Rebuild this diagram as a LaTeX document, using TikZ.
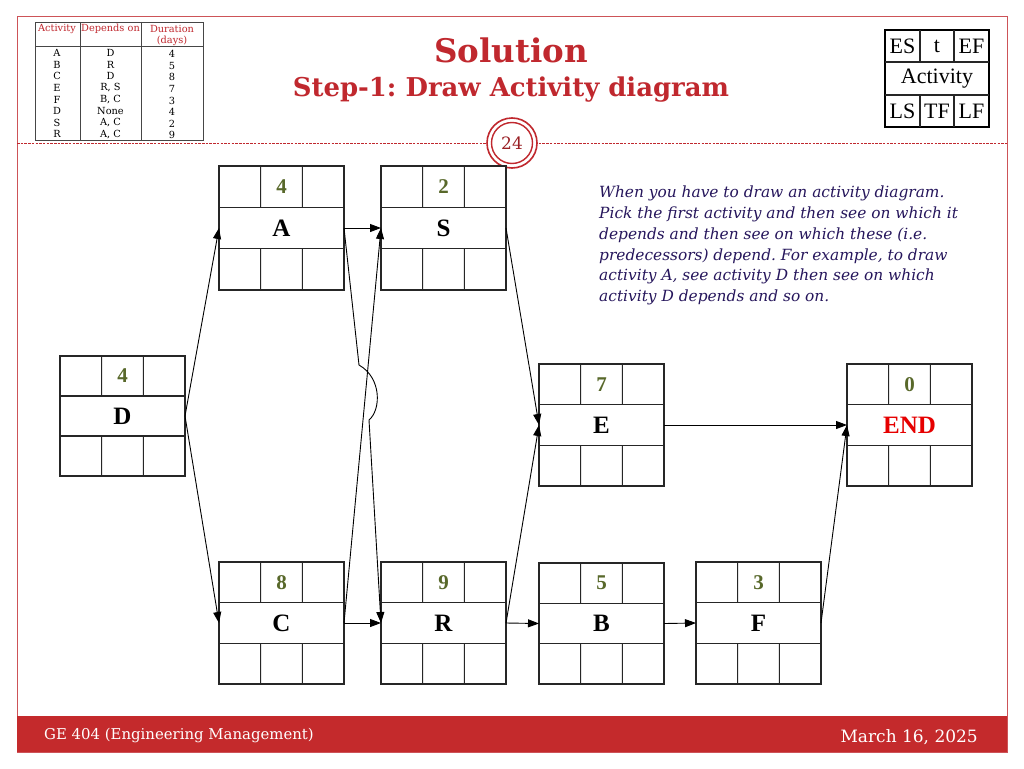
\documentclass[tikz,border=0pt]{standalone}
\usepackage{fontspec}
\setmainfont{DejaVu Serif}
\newfontfamily\tnr{Liberation Serif}
\usetikzlibrary{calc,arrows.meta}
\frenchspacing
\definecolor{slred}{RGB}{192,40,46}
\definecolor{barred}{RGB}{196,42,44}
\definecolor{olivenum}{RGB}{88,104,42}
\definecolor{parcol}{RGB}{38,22,92}
\definecolor{endred}{RGB}{230,0,0}
\definecolor{gridgray}{RGB}{70,70,70}
\newcommand\actbox[5]{%
  \node[abox, minimum height=#5] (#1) at (#2,#3) {};
  \draw[inner] ($(#1.north west)!1/3!(#1.south west)$) -- ($(#1.north east)!1/3!(#1.south east)$);
  \draw[inner] ($(#1.north west)!2/3!(#1.south west)$) -- ($(#1.north east)!2/3!(#1.south east)$);
  \draw[inner] ($(#1.north west)!1/3!(#1.north east)$) -- ($($(#1.north west)!1/3!(#1.north east)$)!1/3!($(#1.south west)!1/3!(#1.south east)$)$);
  \draw[inner] ($(#1.north west)!2/3!(#1.north east)$) -- ($($(#1.north west)!2/3!(#1.north east)$)!1/3!($(#1.south west)!2/3!(#1.south east)$)$);
  \draw[inner] ($(#1.south west)!1/3!(#1.south east)$) -- ($($(#1.south west)!1/3!(#1.south east)$)!1/3!($(#1.north west)!1/3!(#1.north east)$)$);
  \draw[inner] ($(#1.south west)!2/3!(#1.south east)$) -- ($($(#1.south west)!2/3!(#1.south east)$)!1/3!($(#1.north west)!2/3!(#1.north east)$)$);
}
\begin{document}
\frenchspacing
\begin{tikzpicture}[x=1pt,y=-1pt,
  abox/.style={draw=black!85, line width=1.1pt, minimum width=125pt, inner sep=0pt, outer sep=0pt, fill=white},
  inner/.style={draw=black!85, line width=1.1pt},
  numtxt/.style={font=\tnr\bfseries\fontsize{21}{21}\selectfont, text=olivenum, inner sep=0pt},
  labtxt/.style={font=\tnr\bfseries\fontsize{25}{25}\selectfont, inner sep=0pt},
  arr/.style={line width=0.9pt, -{Triangle[length=11pt,width=8pt]}},
  tbl/.style={font=\fontsize{9.8}{9.8}\selectfont, inner sep=0pt},
  tblh/.style={font=\fontsize{9.8}{11}\selectfont, text=slred, inner sep=0pt, align=center},
  leg/.style={font=\tnr\fontsize{22}{22}\selectfont, inner sep=0pt}
]
\useasboundingbox (0,0) rectangle (1024,768);
\fill[white] (0,0) rectangle (1024,768);
% frame
\draw[slred!80, line width=1pt] (17,17) rectangle (1007,752);
\fill[barred] (17,716) rectangle (1007,752);
\node[anchor=west, text=white, font=\fontsize{14.9}{14.9}\selectfont, inner sep=0pt] (foot1) at (44,735) {GE 404 (Engineering Management)};
\node[anchor=east, text=white, font=\fontsize{17}{17}\selectfont, inner sep=0pt] (foot2) at (978,737) {March 16, 2025};
% dashed line and page circle
\draw[slred, line width=1pt, dash pattern=on 2.5pt off 1.2pt] (17,143) -- (1007,143);
\node[circle, fill=white, draw=slred, line width=1.6pt, minimum size=50pt, inner sep=0pt] (pgc) at (512,143) {};
\node[circle, draw=slred, line width=1.4pt, minimum size=41pt, inner sep=0pt, text=slred!80!black, font=\fontsize{17}{17}\selectfont] (pgn) at (512,143) {24};
% titles
\node[text=slred, font=\bfseries\fontsize{32.5}{32.5}\selectfont, inner sep=0pt] (title) at (511,50) {Solution};
\node[text=slred, font=\bfseries\fontsize{25.9}{25.9}\selectfont, inner sep=0pt] (subtitle) at (511,90) {Step-1: Draw Activity diagram};
% table
\draw[gridgray, line width=0.8pt] (35,22) rectangle (203,140);
\draw[gridgray, line width=0.8pt] (35,46) -- (203,46);
\draw[gridgray, line width=0.8pt] (80,22) -- (80,140);
\draw[gridgray, line width=0.8pt] (141,22) -- (141,140);
\node[tblh] (h1) at (57,29) {Activity};
\node[tblh] (h2) at (110.5,29) {Depends on};
\node[tblh] (h3) at (172,35) {Duration\\(days)};
\foreach \a/\d/\t [count=\i] in {A/D/4,B/R/5,C/D/8,E/{R, S}/7,F/{B, C}/3,D/None/4,S/{A, C}/2,R/{A, C}/9}{
  \node[tbl] at (57,{41.5+11.6*\i}) {\a};
  \node[tbl] at (110.5,{41.5+11.6*\i}) {\d};
  \node[tbl] at (172,{42.5+11.6*\i}) {\t};
}
% legend
\node[draw=black, line width=1.2pt, minimum width=104pt, minimum height=97pt, inner sep=0pt] (legend) at (937,78.5) {};
\draw[inner] (885,62) -- (989,62) (885,95) -- (989,95)
  (920,30) -- (920,62) (954,30) -- (954,62) (920,95) -- (920,127) (954,95) -- (954,127);
\node[leg] at (902.5,46) {ES};
\node[leg] at (937,46) {t};
\node[leg] at (971.5,46) {EF};
\node[leg] at (937,78.5) {Activity};
\node[leg] at (902.5,111) {LS};
\node[leg] at (937,111) {TF};
\node[leg] at (971.5,111) {LF};
% paragraph
\node[anchor=north west, align=left, text=parcol, font=\itshape\fontsize{15.4}{20.7}\selectfont, inner sep=0pt] (para) at (599,186)
 {When you have to draw an activity diagram.\\
  Pick the first activity and then see on which it\\
  depends and then see on which these (i.e.\\
  predecessors) depend. For example, to draw\\
  activity A, see activity D then see on which\\
  activity D depends and so on.};
% activity boxes
\actbox{A}{281.5}{228}{4}{124pt}
\actbox{S}{443.5}{228}{2}{124pt}
\actbox{D}{122.5}{416}{4}{120pt}
\actbox{E}{601.5}{425}{7}{122pt}
\actbox{END}{909.5}{425}{0}{122pt}
\actbox{C}{281.5}{623}{8}{122pt}
\actbox{R}{443.5}{623}{9}{122pt}
\actbox{B}{601.5}{623.5}{5}{121pt}
\actbox{F}{758.5}{623}{3}{122pt}
\foreach \n/\v/\l in {A/4/A,S/2/S,D/4/D,E/7/E,C/8/C,R/9/R,B/5/B,F/3/F}{
  \node[numtxt] at ($(\n.north)!1/6!(\n.south)$) {\v};
  \node[labtxt] at (\n.center) {\l};
}
\node[numtxt] at ($(END.north)!1/6!(END.south)$) {0};
\node[labtxt, text=endred] at (END.center) {END};
% connectors
\coordinate (hopA) at (359,365);
\coordinate (hopB) at (369,420);
\draw[arr] (D.east) -- (A.west);
\draw[arr] (D.east) -- (C.west);
\draw[arr] (A.east) -- (S.west);
\draw[arr] (C.east) -- (S.west);
\draw[arr] (A.east) -- (hopA) .. controls (382,378) and (381,410) .. (hopB) -- (R.west);
\draw[arr] (C.east) -- (R.west);
\draw[arr] (S.east) -- (E.west);
\draw[arr] (R.east) -- (E.west);
\draw[arr] (R.east) -- (B.west);
\draw[arr] (B.east) -- (F.west);
\draw[arr] (E.east) -- (END.west);
\draw[arr] (F.east) -- (END.west);
\end{tikzpicture}
\end{document}
